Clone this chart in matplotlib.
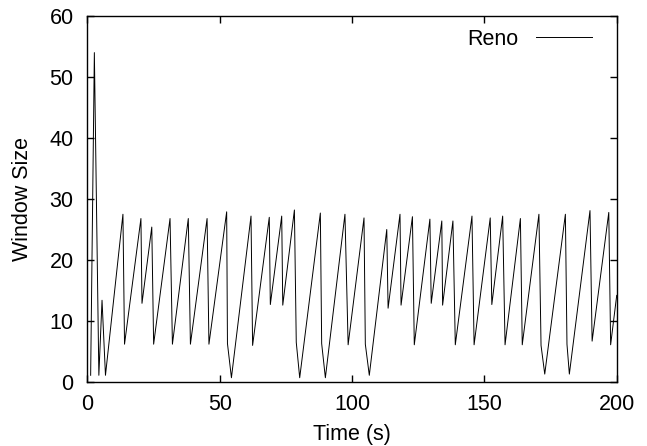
import matplotlib
matplotlib.use("Agg")
import matplotlib.pyplot as plt

# window trace vertices (time in s, window in segments)
time_s = [1.2, 2.6, 4.3, 5.5, 6.8, 13.4, 14.0, 20.2, 20.6, 24.3, 25.0,
          31.2, 32.1, 38.1, 38.9, 45.2, 45.9, 52.6, 52.9, 54.4,
          61.8, 62.4, 68.7, 69.1, 73.4, 73.8, 78.2, 78.9, 80.2,
          88.0, 88.5, 89.9, 97.3, 98.5, 104.5, 105.0, 106.5,
          113.1, 113.6, 118.1, 118.5, 122.8, 123.5, 129.4, 129.9,
          133.9, 134.2, 138.1, 139.0, 145.3, 146.1, 152.2, 152.8,
          156.9, 157.8, 163.6, 164.3, 170.6, 171.4, 172.8,
          180.6, 181.2, 182.1, 189.9, 190.7, 197.0, 197.7, 198.8, 200.0]
window = [1.1, 54.0, 1.1, 13.4, 1.1, 27.5, 6.2, 26.8, 12.9, 25.4, 6.2,
          26.8, 6.2, 26.8, 6.2, 26.8, 6.2, 27.9, 6.3, 0.7,
          27.2, 6.0, 27.0, 12.7, 27.2, 12.6, 28.2, 6.5, 0.7,
          27.7, 6.3, 0.7, 27.5, 6.1, 26.9, 6.2, 1.1,
          25.0, 12.1, 27.5, 12.6, 27.1, 6.1, 26.7, 12.9,
          26.4, 12.6, 26.4, 6.1, 27.2, 6.1, 26.9, 12.7,
          27.2, 6.1, 26.8, 6.1, 27.5, 6.0, 1.3,
          27.5, 6.2, 1.3, 28.1, 6.7, 27.8, 6.1, 10.0, 14.2]

x_ticks = [0, 50, 100, 150, 200]
y_ticks = [0, 10, 20, 30, 40, 50, 60]

plt.rcParams['font.family'] = ['Liberation Sans', 'DejaVu Sans']
FS = 15.5

fig = plt.figure(figsize=(6.47, 4.46), dpi=100)
ax = fig.add_axes([0.1352, 0.1435, 0.8180, 0.8206])

ax.plot(time_s, window, color='black', linewidth=0.7, label='Reno')

ax.set_xlim(0, 200)
ax.set_ylim(0, 60)
ax.set_xticks(x_ticks)
ax.set_yticks(y_ticks)
ax.tick_params(direction='in', length=5, width=1, top=True, right=True,
               labelsize=FS)
ax.tick_params(axis='y', pad=10)
ax.tick_params(axis='x', pad=9)
for s in ax.spines.values():
    s.set_linewidth(1.0)

ax.set_xlabel('Time (s)', fontsize=FS, labelpad=6)
ax.set_ylabel('Window Size', fontsize=FS, labelpad=12)

ax.legend(loc='upper right', frameon=False, markerfirst=False, fontsize=FS,
          handlelength=2.6, borderaxespad=0.4, handletextpad=0.8,
          borderpad=0.2, bbox_to_anchor=(0.977, 1.0))

fig.savefig('out.png', dpi=100)
